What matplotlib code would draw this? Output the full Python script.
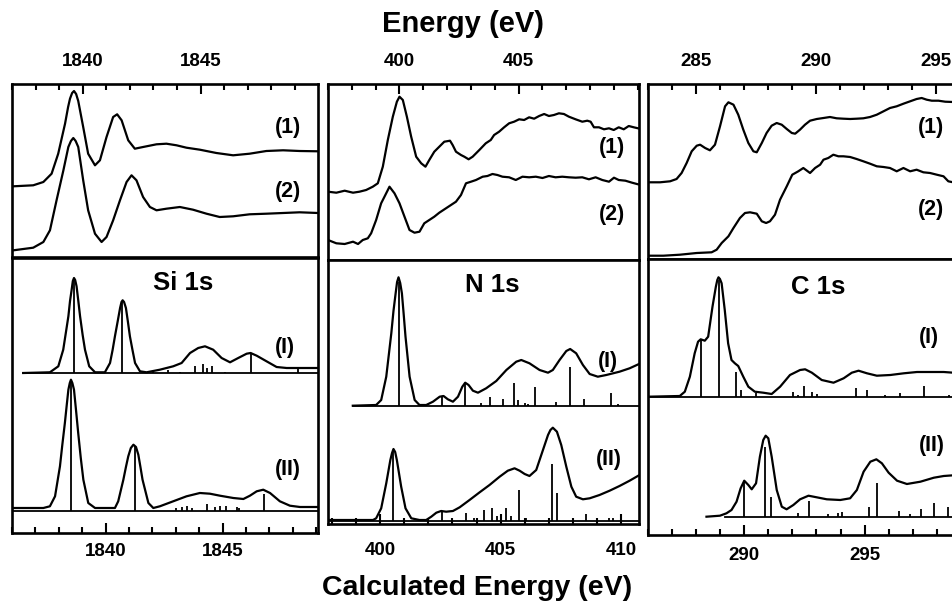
import matplotlib
matplotlib.use('Agg')
import matplotlib.pyplot as plt
from matplotlib.ticker import FixedLocator, MultipleLocator

plt.rcParams['font.family'] = ['Liberation Sans', 'DejaVu Sans']
plt.rcParams['font.weight'] = 'bold'

# ---------------- Data (energies in eV, intensities in arbitrary units) -------------
# Si 1s experimental
si_exp_x1 = [1837.06, 1837.90, 1838.33, 1838.68, 1838.96, 1839.25, 1839.38, 1839.46, 1839.55, 1839.63, 1839.72, 1839.81,
             1840.02, 1840.23, 1840.52, 1840.73, 1841.01, 1841.29, 1841.46, 1841.65, 1841.93, 1842.21, 1842.56,
             1843.13, 1843.55, 1843.98, 1844.40, 1844.97, 1845.67, 1846.38, 1847.08, 1847.79, 1848.50, 1849.20, 1849.98]
si_exp_y1 = [70.7, 71.7, 75, 83.3, 103.3, 133.3, 150, 158.3, 164, 166, 163, 156,
             130, 103.3, 91.7, 96.7, 120, 140, 142.7, 136.7, 116.7, 108.3, 110,
             112.7, 113.3, 111.7, 109.3, 107.3, 104, 101.7, 103.3, 106, 106.7, 106, 105.7]
si_exp_x2 = [1837.06, 1837.90, 1838.33, 1838.61, 1838.89, 1839.18, 1839.39, 1839.50, 1839.60, 1839.70, 1839.81,
             1840.02, 1840.23, 1840.52, 1840.80, 1841.01, 1841.29, 1841.58, 1841.86, 1842.07, 1842.28, 1842.56,
             1842.85, 1843.13, 1843.55, 1844.12, 1844.68, 1845.25, 1845.81, 1846.38, 1847.08, 1847.79, 1848.50,
             1849.20, 1849.98]
si_exp_y2 = [6.7, 9.3, 15, 26.7, 56.7, 86.7, 110, 116, 119, 116, 110,
             76.7, 46.7, 23.3, 15, 20, 36.7, 56.7, 75, 81.7, 76.7, 60,
             50, 46.7, 48.3, 50, 47.3, 43.3, 40, 40.7, 42.7, 43.3, 44,
             44.7, 44]

# N 1s experimental
n_exp_x1 = [397.00, 397.35, 397.70, 398.05, 398.32, 398.60, 398.88, 399.09, 399.30, 399.51, 399.72, 399.89, 400.00,
            400.14, 400.31, 400.49, 400.70, 400.91, 401.09, 401.25, 401.46, 401.67, 401.88, 402.12, 402.23, 402.37,
            402.58, 402.72, 402.90, 403.07, 403.35, 403.62, 403.83, 403.97, 404.18, 404.39, 404.60, 404.81, 405.02,
            405.23, 405.44, 405.65, 405.86, 406.07, 406.27, 406.48, 406.69, 406.90, 407.11, 407.39, 407.67, 407.88,
            408.02, 408.16, 408.37, 408.58, 408.79, 408.99, 409.20, 409.41, 409.62, 409.83, 410.01]
n_exp_y1 = [68.3, 67.3, 69.3, 67.3, 68.3, 70, 73.3, 76.7, 93.3, 120, 143.3, 158.3, 163.3,
            160, 143.3, 123.3, 103.3, 96.7, 93.3, 100, 108.3, 113.3, 118.3, 119.3, 115, 108.3,
            105, 103.3, 100.7, 103.3, 110, 116.7, 120, 125, 128.3, 132.7, 136.7, 138.3, 140.7,
            140, 142.7, 141.3, 144, 146, 144, 145, 146.7, 146, 143.3, 140.7, 138.3, 139.3,
            138.3, 132.7, 132.7, 130.7, 131.7, 130, 132.7, 130.7, 134, 132.7, 131.7]
n_exp_x2 = [397.00, 397.35, 397.70, 398.05, 398.26, 398.46, 398.67, 398.81, 399.02, 399.23, 399.37, 399.58, 399.79,
            400.00, 400.21, 400.42, 400.63, 400.84, 401.04, 401.25, 401.46, 401.67, 401.95, 402.16, 402.37, 402.58,
            402.79, 403.00, 403.21, 403.49, 403.69, 403.90, 404.11, 404.32, 404.60, 404.88, 405.16, 405.44, 405.72,
            406.00, 406.27, 406.55, 406.83, 407.11, 407.39, 407.67, 407.95, 408.23, 408.51, 408.79, 409.00, 409.20,
            409.48, 409.76, 410.01]
n_exp_y2 = [20, 16.7, 16, 18.3, 16, 20, 21.7, 26.7, 40, 56.7, 63.3, 73.3, 66.7,
            56.7, 43.3, 30, 27.3, 28.3, 36.7, 40, 43.3, 47.3, 51.7, 55, 58.3, 65,
            76.7, 78.3, 80, 83.3, 84, 86, 85, 83.3, 82.7, 80, 83.3, 82.7, 83.3,
            82, 84, 82.7, 83.3, 82.7, 82.3, 82.7, 80.7, 82.7, 80, 78.3, 82.3, 80,
            79.3, 77.3, 75.7]

# C 1s experimental
c_exp_x1 = [283.01, 283.50, 283.92, 284.19, 284.40, 284.61, 284.82, 285.03, 285.17, 285.38, 285.58, 285.79, 286.00,
            286.21, 286.35, 286.56, 286.76, 286.97, 287.18, 287.39, 287.53, 287.74, 287.94, 288.15, 288.36, 288.57,
            288.78, 288.99, 289.13, 289.33, 289.54, 289.75, 290.03, 290.31, 290.58, 290.86, 291.14, 291.42, 291.69,
            291.97, 292.25, 292.53, 292.81, 293.08, 293.36, 293.64, 293.92, 294.19, 294.40, 294.61, 294.82, 295.10,
            295.38, 295.71]
c_exp_y1 = [76.7, 76.7, 77.7, 80, 86, 96, 107.7, 113.3, 114.3, 111, 108.7, 114.3, 132.7,
            152.7, 156.7, 154.3, 144.3, 129.3, 116, 107.7, 106.7, 116, 126, 133.3, 136, 134.3,
            130, 126, 125.3, 129.3, 134.3, 138.3, 140, 141, 142, 140.7, 140.3, 140, 140.3,
            140.7, 142, 144.3, 147.7, 151, 152.7, 155.3, 157.7, 160, 161, 159.3, 158.3, 158.3,
            157.3, 157]
c_exp_x2 = [283.01, 283.64, 284.33, 285.03, 285.65, 285.86, 286.07, 286.35, 286.56, 286.83, 287.04, 287.25, 287.53,
            287.74, 287.92, 288.08, 288.29, 288.50, 288.78, 289.01, 289.26, 289.47, 289.75, 289.96, 290.17, 290.31,
            290.51, 290.72, 290.93, 291.14, 291.42, 291.69, 291.97, 292.25, 292.53, 292.81, 293.08, 293.36, 293.64,
            293.92, 294.19, 294.47, 294.75, 295.03, 295.31, 295.51, 295.71]
c_exp_y2 = [3.3, 3.3, 4.3, 6, 6.7, 9.3, 16, 22.7, 31, 41, 46, 46.7, 45.3,
            37.7, 36, 37.7, 44.3, 59.3, 72.7, 84.3, 87.7, 91, 86, 91, 94.3, 99.3,
            101, 104.3, 102.7, 102.7, 102, 100, 97.7, 95.3, 92.7, 92, 91, 87.7, 91,
            87.7, 89.3, 86.7, 86, 84.3, 82.7, 77.7, 76.7]

# Si 1s calculated
si_calc_x1 = [1836.48, 1837.62, 1837.98, 1838.19, 1838.30, 1838.41, 1838.48, 1838.55, 1838.60, 1838.65, 1838.70,
              1838.76, 1838.83, 1838.91, 1839.02, 1839.12, 1839.30,
              1839.55, 1839.97, 1840.19, 1840.30, 1840.40, 1840.52, 1840.62, 1840.68, 1840.73, 1840.79, 1840.87,
              1840.95, 1841.04, 1841.15, 1841.26, 1841.47, 1841.75,
              1842.32, 1842.89, 1843.25, 1843.61, 1843.96, 1844.25, 1844.60, 1844.96, 1845.32, 1845.67, 1846.03,
              1846.20, 1846.46, 1846.88, 1847.31, 1847.74, 1848.31, 1849.09]
si_calc_y1 = [160, 160.7, 166.7, 183.3, 200, 216.7, 232, 243.3, 252, 255, 253,
              246.7, 233, 216.7, 198, 183.3, 166.7,
              160.7, 160.7, 170, 183, 196.7, 212, 225, 231, 232.7, 231, 225,
              212, 196.7, 183, 170, 161.7, 160.7,
              163.3, 166.7, 170, 180, 185, 186.7, 183.3, 175, 170.7, 175, 179.3,
              180, 177.3, 171.7, 166, 165, 165, 165]
si_stick_x1 = [1838.65, 1840.72, 1842.04, 1842.68, 1843.18, 1843.82, 1844.18, 1844.35, 1844.53, 1845.10, 1846.20, 1848.24]
si_stick_y1 = [251.7, 230.7, 161.7, 162.7, 161.3, 166.7, 169.3, 165, 167.3, 161.3, 179.3, 165]
si_base1 = 160

si_calc_x2 = [1836.06, 1837.34, 1837.62, 1837.84, 1838.05, 1838.15, 1838.26, 1838.34, 1838.41, 1838.47, 1838.52,
              1838.58, 1838.65, 1838.74, 1838.83, 1838.94, 1839.05,
              1839.26, 1839.55, 1840.40, 1840.54, 1840.76, 1840.87, 1840.97, 1841.08, 1841.19, 1841.30, 1841.40,
              1841.49, 1841.58, 1841.83, 1842.04,
              1842.32, 1842.89, 1843.46, 1844.03, 1844.46, 1844.89, 1845.46, 1845.89, 1846.17, 1846.46, 1846.74,
              1847.03, 1847.45, 1847.88, 1848.31, 1849.09]
si_calc_y2 = [25, 25, 26.7, 36.7, 66.7, 88, 110, 128, 143.3, 150, 153.3,
              150, 143.3, 122, 100, 75, 53.3,
              30, 25, 25, 31.7, 53.3, 66, 76.7, 85, 88.3, 86, 78.3,
              66, 53.3, 30, 25,
              26.7, 31.7, 36.7, 40, 39.3, 37.3, 35, 34, 37.3, 41.7, 43.3,
              40, 31.7, 27.3, 26, 26]
si_stick_x2 = [1838.52, 1841.26, 1843.01, 1843.25, 1843.49, 1843.68, 1844.32, 1844.68, 1844.89, 1845.15, 1845.60,
               1845.72, 1846.78]
si_stick_y2 = [151.7, 86.7, 25, 26, 27.3, 25, 29.3, 25.7, 26.7, 26.7, 26, 25, 39]
si_base2 = 21.7

# N 1s calculated
n_calc_x1 = [398.86, 399.83, 400.04, 400.25, 400.46, 400.55, 400.64, 400.70, 400.76, 400.83, 400.90, 400.97, 401.05,
             401.22, 401.43, 401.63,
             401.91, 402.19, 402.47, 402.63, 402.81, 403.02, 403.23, 403.41, 403.53, 403.67, 403.85, 404.06,
             404.40, 404.82, 405.24, 405.65, 405.86, 406.20, 406.62, 406.97, 407.17, 407.45, 407.73, 407.89,
             408.14, 408.42, 408.70, 409.04, 409.39, 409.94, 410.36, 410.75]
n_calc_y1 = [118.3, 119, 124, 147.3, 190.7, 213, 230.7, 242, 246.7, 241, 230.7, 211, 187.3,
             147.3, 124, 119,
             119, 122.3, 127.3, 128, 124.7, 122.3, 127.3, 137.3, 141.3, 139, 133.3, 131.3,
             135.7, 143, 154, 162.3, 164, 160.7, 154, 151.3, 154, 164, 173, 175,
             170.7, 159, 150, 147.3, 149, 152.3, 155.7, 160]
n_stick_x1 = [400.76, 402.58, 403.53, 404.20, 404.54, 405.10, 405.56, 405.72, 406.00, 406.14, 406.44, 407.31,
              407.89, 408.46, 409.57, 409.88]
n_stick_y1 = [242.3, 127.3, 141.3, 121.3, 126.7, 124.7, 140.7, 124, 121.3, 120, 136.7, 122.3,
              156.7, 125.3, 130.7, 120]
n_base1 = 118.3

n_calc_x2 = [397.83, 399.70, 399.83, 400.04, 400.25, 400.42, 400.49, 400.55, 400.62, 400.69, 400.87, 401.05, 401.29,
             401.63,
             401.91, 402.12, 402.33, 402.53, 402.74, 403.02, 403.30, 403.71, 404.13, 404.54, 404.96, 405.30,
             405.58, 405.79, 406.00, 406.20, 406.48, 406.76, 406.97, 407.07, 407.17, 407.34, 407.52, 407.73, 407.94,
             408.14, 408.42, 408.70, 409.11, 409.53, 409.94, 410.36, 410.75]
n_calc_y2 = [4, 4, 5.7, 15.7, 40.7, 64, 71, 75, 72, 64, 37.3, 15.7, 5.7,
             4,
             4, 7.3, 11.3, 13, 12.3, 13, 16.7, 24, 31.7, 39, 47.3, 53.3,
             55.7, 53.3, 50, 48, 54, 74, 89, 94, 96.3, 92.3, 79, 57.3, 37.3,
             27.3, 24.7, 25.7, 29, 33.3, 38, 43.3, 48.7]
n_stick_x2 = [400.55, 402.56, 403.57, 403.88, 404.29, 404.64, 404.85, 405.24, 405.44, 405.75, 406.07, 407.13,
              407.34, 408.56, 409.50, 409.67]
n_stick_y2 = [74, 12.3, 10.7, 6.3, 14, 15.7, 8.3, 15.7, 8, 34, 6.3, 59.7, 31.3, 9.7, 5.7, 5.7]
n_base2 = 3.3

# C 1s calculated
c_calc_x1 = [286.00, 287.32, 287.53, 287.74, 287.94, 288.08, 288.19, 288.36, 288.50, 288.68, 288.82, 288.88, 288.93,
             288.99, 289.06, 289.19, 289.33, 289.47, 289.61, 289.75, 289.96, 290.17, 290.44, 290.79, 291.14, 291.49,
             291.90, 292.32, 292.53, 292.81, 293.22, 293.71, 294.13, 294.47, 294.75, 295.10, 295.51, 296.07,
             296.63, 297.18, 297.74, 298.29, 298.69]
c_calc_y1 = [138.3, 139, 143.3, 158.3, 181.7, 193.3, 195.7, 194.3, 198.3, 228.3, 248.3, 255, 257.7,
             256, 251.7, 225, 191.7, 175, 171.7, 169, 158.3, 148.3, 143.3, 142.3, 141, 148.3,
             160, 165, 165.7, 162.3, 155, 152.3, 156.7, 162.3, 164.3, 161.7, 159.3, 160,
             161.7, 163, 163, 163, 162.3]
c_stick_x1 = [288.19, 288.93, 289.65, 289.85, 290.49, 292.04, 292.22, 292.49, 292.81, 293.04, 294.65, 295.10,
              295.86, 296.49, 297.46, 298.50]
c_stick_y1 = [195.7, 255, 163.3, 145, 142.3, 143.3, 140, 149, 143.3, 141, 146.7, 145, 140, 142.3, 149, 140]
c_base1 = 138.3

c_calc_x2 = [288.43, 288.99, 289.26, 289.47, 289.68, 289.85, 290.00, 290.17, 290.31, 290.49, 290.65, 290.79,
             290.89, 291.00, 291.14, 291.35, 291.56, 291.76, 292.04, 292.32, 292.67, 293.01, 293.43, 293.99,
             294.40, 294.68, 294.96, 295.24, 295.49, 295.72, 296.00, 296.35, 296.76, 297.32, 297.88, 298.29,
             298.69]
c_calc_y2 = [18.3, 19.3, 21.7, 25, 33.3, 46.7, 54.3, 50, 45.7, 51.7, 78.3, 95,
             99.3, 96.7, 78.3, 45, 28.3, 25.7, 30, 35.7, 39.3, 37.7, 35.7, 35,
             36.7, 45, 63.3, 73.3, 75.7, 71.7, 62.3, 54.3, 51, 53.3, 57.3, 59,
             59.7]
c_stick_x2 = [290.00, 290.86, 291.11, 292.25, 292.69, 293.50, 293.88, 294.08, 295.18, 295.53, 296.43, 296.90,
              297.36, 297.88, 298.47]
c_stick_y2 = [54.3, 88.3, 38.3, 21.7, 34.3, 21, 21.7, 23, 27.7, 52.3, 24, 21, 25.7, 31.7, 27.7]
c_base2 = 18.3

exp_labels = ['(1)', '(2)']
calc_labels = ['(I)', '(II)']
edge_names = ['Si 1s', 'N 1s', 'C 1s']
top_major = [[1840, 1845], [400, 405], [285, 290, 295]]
bot_major = [[1840, 1845], [400, 405, 410], [290, 295]]

# ---------------- Figure ----------------
W, H = 953, 602
fig = plt.figure(figsize=(W / 100, H / 100), dpi=100)


def add_ax(x0, y0, x1, y1):
    return fig.add_axes([x0 / W, 1 - y1 / H, (x1 - x0) / W, (y1 - y0) / H])


LW_SP = 1.9
LW_C = 1.6
LW_S = 1.3
TICK_FS = 13.5


def style(ax, top, major, pad):
    for s in ax.spines.values():
        s.set_linewidth(LW_SP)
    ax.set_yticks([])
    ax.xaxis.set_major_locator(FixedLocator(major))
    ax.xaxis.set_minor_locator(MultipleLocator(1))
    if top:
        ax.tick_params(axis='x', which='both', direction='in', top=True, bottom=False,
                       labeltop=True, labelbottom=False, width=1.5)
    else:
        ax.tick_params(axis='x', which='both', direction='in', top=False, bottom=True,
                       labeltop=False, labelbottom=True, width=1.5)
    ax.tick_params(axis='x', which='major', length=7, pad=pad, labelsize=TICK_FS)
    ax.tick_params(axis='x', which='minor', length=4)
    for lab in ax.get_xticklabels():
        lab.set_fontweight('bold')


# column geometry in pixels: (x0, x1, top_y0, split_top, split_bot, bottom_y)
cols = [(12, 318, 84, 257, 258, 533), (328, 639, 84, 260, 260, 524), (648, 956, 84, 259, 259, 535)]
top_xlim = [(1837.0, 1849.98), (397.0, 410.05), (283.0, 295.83)]
bot_xlim = [(1836.0, 1849.08), (397.83, 410.75), (286.0, 298.8)]
bot_pads = [7, 13, 9]

exp_data = [((si_exp_x1, si_exp_y1), (si_exp_x2, si_exp_y2)),
            ((n_exp_x1, n_exp_y1), (n_exp_x2, n_exp_y2)),
            ((c_exp_x1, c_exp_y1), (c_exp_x2, c_exp_y2))]
calc_data = [((si_calc_x1, si_calc_y1, si_stick_x1, si_stick_y1, si_base1),
              (si_calc_x2, si_calc_y2, si_stick_x2, si_stick_y2, si_base2)),
             ((n_calc_x1, n_calc_y1, n_stick_x1, n_stick_y1, n_base1),
              (n_calc_x2, n_calc_y2, n_stick_x2, n_stick_y2, n_base2)),
             ((c_calc_x1, c_calc_y1, c_stick_x1, c_stick_y1, c_base1),
              (c_calc_x2, c_calc_y2, c_stick_x2, c_stick_y2, c_base2))]

exp_label_pos = [[(1848.7, 129), (1848.7, 65)], [(408.9, 113), (408.9, 45)], [(294.8, 131), (294.8, 49)]]
calc_label_pos = [[(1847.67, 186), (1847.8, 63)], [(409.44, 162), (409.5, 64)], [(297.66, 197), (297.8, 90)]]
name_pos = [(1843.3, 250), (404.67, 239), (293.07, 248)]
base_start = [[1836.48, None], [398.86, None], [None, 289.19]]

LBL_FS = 15.5
NAME_FS = 18.5

for i, (x0, x1, ty0, ty1, by0, by1) in enumerate(cols):
    # experimental (top)
    axt = add_ax(x0, ty0, x1, ty1)
    axt.set_xlim(*top_xlim[i])
    axt.set_ylim(0, ty1 - ty0)
    for (xs, ys) in exp_data[i]:
        axt.plot(xs, ys, color='black', lw=LW_C, solid_joinstyle='round')
    for lab, (lx, ly) in zip(exp_labels, exp_label_pos[i]):
        axt.text(lx, ly, lab, ha='center', va='center', fontsize=LBL_FS, fontweight='bold')
    style(axt, True, top_major[i], 10)

    # calculated (bottom)
    axb = add_ax(x0, by0, x1, by1)
    axb.set_xlim(*bot_xlim[i])
    axb.set_ylim(0, by1 - by0)
    for k, (xs, ys, sx, sy, base) in enumerate(calc_data[i]):
        axb.plot(xs, ys, color='black', lw=LW_C, solid_joinstyle='round')
        axb.vlines(sx, base, sy, color='black', lw=LW_S)
        bs = base_start[i][k] if base_start[i][k] is not None else bot_xlim[i][0]
        axb.plot([bs, bot_xlim[i][1]], [base, base], color='black', lw=LW_S)
    for lab, (lx, ly) in zip(calc_labels, calc_label_pos[i]):
        axb.text(lx, ly, lab, ha='center', va='center', fontsize=LBL_FS, fontweight='bold')
    axb.text(name_pos[i][0], name_pos[i][1], edge_names[i], ha='center', va='center',
             fontsize=NAME_FS, fontweight='bold')
    style(axb, False, bot_major[i], bot_pads[i])

fig.text(463 / W, 1 - 24 / H, 'Energy (eV)', ha='center', va='center', fontsize=21, fontweight='bold')
fig.text(477 / W, 1 - 588 / H, 'Calculated Energy (eV)', ha='center', va='center', fontsize=20.5,
         fontweight='bold')

fig.savefig('out.png', dpi=100)
